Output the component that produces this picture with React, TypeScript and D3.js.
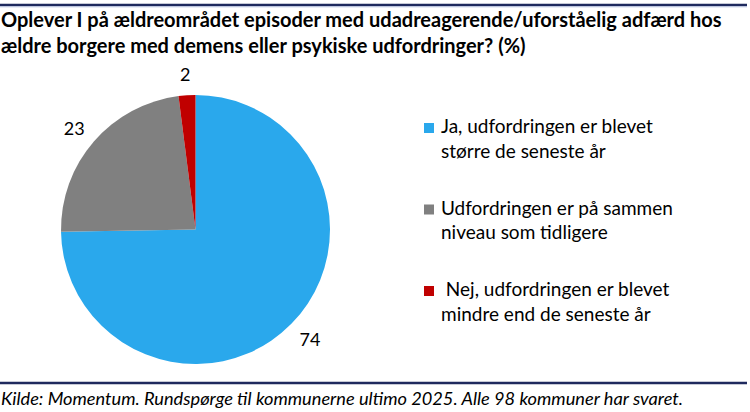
import React from "react";
import * as d3 from "d3";

const categories = [
  ["Ja, udfordringen er blevet", "større de seneste år"],
  ["Udfordringen er på sammen", "niveau som tidligere"],
  [" Nej, udfordringen er blevet", "mindre end de seneste år"],
];
const values = [74, 23, 2];
const colors = ["#2AA8EC", "#808080", "#C00000"];
const titleLines = [
  "Oplever I på ældreområdet episoder med udadreagerende/uforståelig adfærd hos",
  "ældre borgere med demens eller psykiske udfordringer? (%)",
];
const footer = "Kilde: Momentum. Rundspørge til kommunerne ultimo 2025. Alle 98 kommuner har svaret.";

const W = 750;
const H = 412;
const FONT = "Lato, Carlito, Calibri, 'Open Sans', sans-serif";

export default function App() {
  const cx = 195.5;
  const cy = 229.5;
  const r = 134.5;
  const pie = d3.pie<number>().sort(null).startAngle(0).endAngle(2 * Math.PI);
  const arcs = pie(values);
  const arc = d3.arc<d3.PieArcDatum<number>>().innerRadius(0).outerRadius(r);

  const labelPos = (a: d3.PieArcDatum<number>) => {
    const m = (a.startAngle + a.endAngle) / 2;
    const s = Math.sin(m);
    const c = Math.cos(m);
    const R = r + 14;
    return [cx + (R + 12) * s, cy - (R + 7) * c];
  };

  return (
    <svg
      width={W}
      height={H}
      style={{ position: "absolute", left: 0, top: 0, background: "#fff" }}
      fontFamily={FONT}
    >
      <rect x={0} y={0} width={W} height={H} fill="#fff" />
      <line x1={0} x2={747} y1={5} y2={5} stroke="#1F2A5E" strokeWidth={2.5} />
      <line x1={0} x2={747} y1={6.8} y2={6.8} stroke="#B9C3E0" strokeWidth={1} />
      <line x1={0} x2={747} y1={383} y2={383} stroke="#1F2A5E" strokeWidth={2.5} />
      {titleLines.map((t, i) => (
        <text key={i} x={1} y={27 + i * 26} fontSize={20} fontWeight={700} fill="#000">
          {t}
        </text>
      ))}
      <g>
        {arcs.map((a, i) => (
          <path key={i} d={arc(a) || ""} transform={`translate(${cx},${cy})`} fill={colors[i]} />
        ))}
      </g>
      {arcs.map((a, i) => {
        const [x, y] = labelPos(a);
        return (
          <text key={i} x={x} y={y} textAnchor="middle" dominantBaseline="central" fontSize={18} fill="#000">
            {a.data}
          </text>
        );
      })}
      {categories.map((lines, i) => {
        const top = 133 + i * 81.5;
        return (
          <g key={i}>
            <rect x={424} y={top - 10} width={10} height={10} fill={colors[i]} />
            {lines.map((l, j) => (
              <text key={j} x={441} y={top + j * 24.5} fontSize={19} fill="#000" style={{ whiteSpace: "pre" }}>
                {l}
              </text>
            ))}
          </g>
        );
      })}
      <text x={1} y={405} fontSize={18} fontStyle="italic" fill="#000" textLength={682} lengthAdjust="spacingAndGlyphs">
        {footer}
      </text>
    </svg>
  );
}
